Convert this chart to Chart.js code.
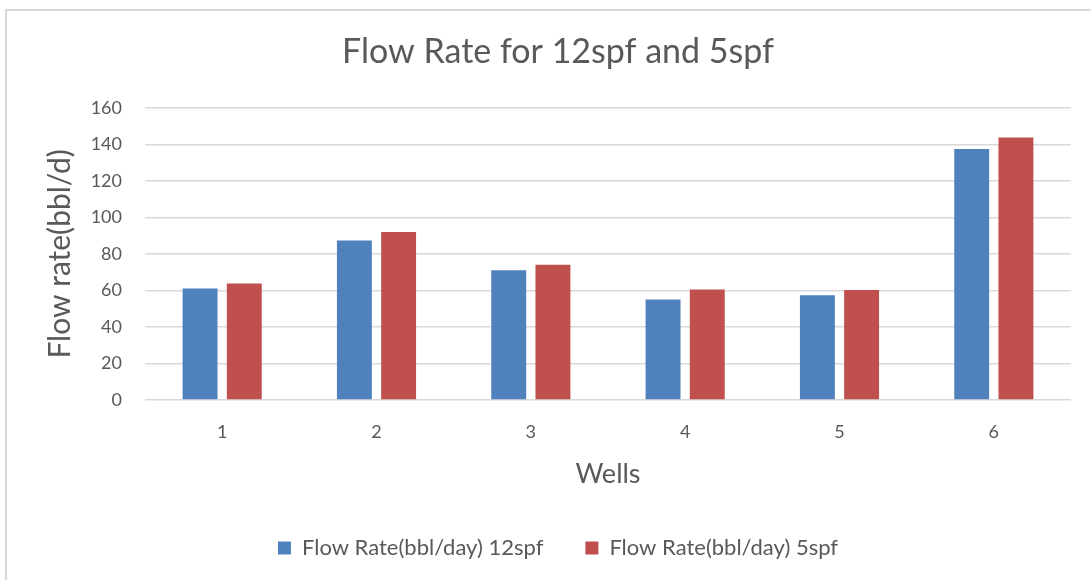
<!DOCTYPE html>
<html>
<head>
<meta charset="utf-8">
<script src="https://cdn.jsdelivr.net/npm/chart.js@4.4.1/dist/chart.umd.min.js"></script>
<style>
  html, body { margin: 0; padding: 0; background: #ffffff; }
  #wrap { position: relative; width: 1091px; height: 580px; overflow: hidden; }
  #frame { position: absolute; left: 5px; top: 9px; width: 1200px; height: 700px;
           border-left: 2px solid #d9d9d9; border-top: 2px solid #d9d9d9; }
  canvas { position: absolute; left: 0; top: 0; }
</style>
</head>
<body>
<div id="wrap">
  <div id="frame"></div>
  <canvas id="c" width="1091" height="580"></canvas>
</div>
<script>
const categories = ["1", "2", "3", "4", "5", "6"];
const flow12spf = [61, 87.4, 71, 55, 57.3, 137.5];
const flow5spf = [63.8, 92, 74, 60.5, 60.2, 143.7];
const seriesNames = ["Flow Rate(bbl/day) 12spf", "Flow Rate(bbl/day) 5spf"];
const yTicks = [0, 20, 40, 60, 80, 100, 120, 140, 160];

const FONT = "Lato, 'Open Sans', sans-serif";
const TXT = "#595959";

new Chart(document.getElementById("c"), {
  type: "bar",
  data: {
    labels: categories,
    datasets: [
      { label: seriesNames[0], data: flow12spf, backgroundColor: "#4f81bd", borderWidth: 0,
        categoryPercentage: 0.573, barPercentage: 0.79 },
      { label: seriesNames[1], data: flow5spf, backgroundColor: "#c0504d", borderWidth: 0,
        categoryPercentage: 0.573, barPercentage: 0.79 }
    ]
  },
  options: {
    responsive: false,
    animation: false,
    layout: { padding: { left: 45, right: 20, top: 0, bottom: 11 } },
    plugins: {
      title: {
        display: true,
        text: "Flow Rate for 12spf and 5spf",
        color: TXT,
        font: { family: FONT, size: 34, weight: "normal" },
        padding: { top: 32, bottom: 35 }
      },
      legend: {
        position: "bottom",
        labels: {
          color: TXT,
          font: { family: FONT, size: 22 },
          boxWidth: 13, boxHeight: 13,
          padding: 42
        }
      },
      tooltip: { enabled: false }
    },
    scales: {
      x: {
        grid: { display: false },
        border: { display: false },
        ticks: { color: TXT, font: { family: FONT, size: 18 }, padding: 13 },
        title: { display: true, text: "Wells", color: TXT,
                 font: { family: FONT, size: 27 }, padding: { top: 0, bottom: 5 } },
        afterFit: (s) => { s.height = 95; }
      },
      y: {
        min: 0, max: 160,
        afterBuildTicks: (s) => { s.ticks = yTicks.map(v => ({ value: v })); },
        grid: { color: "#d9d9d9", lineWidth: 1.5, drawTicks: false },
        border: { display: false },
        ticks: { color: TXT, font: { family: FONT, size: 18 }, padding: 23 },
        title: { display: true, text: "Flow rate(bbl/d)", color: TXT,
                 font: { family: FONT, size: 30, lineHeight: 1 }, padding: { top: 0, bottom: 0 } },
        afterFit: (s) => { s.width = 100; }
      }
    }
  }
});
</script>
</body>
</html>
